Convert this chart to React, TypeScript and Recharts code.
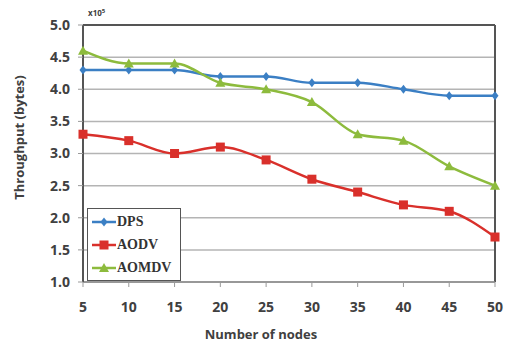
import { LineChart, Line, XAxis, YAxis, CartesianGrid, ReferenceLine } from 'recharts'

// ── Data ──────────────────────────────────────────────────────────────────────

const nodes = [5, 10, 15, 20, 25, 30, 35, 40, 45, 50]
const dps = [4.3, 4.3, 4.3, 4.2, 4.2, 4.1, 4.1, 4.0, 3.9, 3.9]
const aodv = [3.3, 3.2, 3.0, 3.1, 2.9, 2.6, 2.4, 2.2, 2.1, 1.7]
const aomdv = [4.6, 4.4, 4.4, 4.1, 4.0, 3.8, 3.3, 3.2, 2.8, 2.5]
const yTicks = [1.0, 1.5, 2.0, 2.5, 3.0, 3.5, 4.0, 4.5, 5.0]

const data = nodes.map((n, i) => ({ n, dps: dps[i], aodv: aodv[i], aomdv: aomdv[i] }))

const series = [
  { key: 'dps', name: 'DPS', color: '#3b7fc4', shape: 'diamond' },
  { key: 'aodv', name: 'AODV', color: '#d9302b', shape: 'square' },
  { key: 'aomdv', name: 'AOMDV', color: '#8dbb3d', shape: 'triangle' },
]

const SANS = '"Open Sans", "Liberation Sans", sans-serif'

// ── Markers ───────────────────────────────────────────────────────────────────

function Marker({ cx, cy, shape, color }: { cx?: number; cy?: number; shape: string; color: string }) {
  if (cx == null || cy == null) return null
  if (shape === 'square') {
    return <rect x={cx - 4.5} y={cy - 4.5} width={9} height={9} fill={color} />
  }
  if (shape === 'triangle') {
    return <polygon points={`${cx},${cy - 5} ${cx + 5},${cy + 4} ${cx - 5},${cy + 4}`} fill={color} />
  }
  return <polygon points={`${cx},${cy - 4.5} ${cx + 3.5},${cy} ${cx},${cy + 4.5} ${cx - 3.5},${cy}`} fill={color} />
}

// ── Legend (boxed, inside the plot) ───────────────────────────────────────────

function LegendBox() {
  return (
    <div
      style={{
        position: 'absolute',
        left: 87,
        top: 208,
        width: 94,
        height: 73,
        border: '1.5px solid #555',
        background: '#fff',
        boxSizing: 'border-box',
        padding: '1px 0 0 4px',
      }}
    >
      {series.map((s) => (
        <div key={s.key} style={{ display: 'flex', alignItems: 'center', height: 23 }}>
          <svg width={24} height={12}>
            <line x1={0} y1={6} x2={24} y2={6} stroke={s.color} strokeWidth={2.5} />
            <Marker cx={12} cy={6} shape={s.shape} color={s.color} />
          </svg>
          <span
            style={{
              fontFamily: '"Liberation Serif", "DejaVu Serif", serif',
              fontWeight: 'bold',
              fontSize: 14,
              color: '#333',
              marginLeft: 1,
            }}
          >
            {s.name}
          </span>
        </div>
      ))}
    </div>
  )
}

export default function App() {
  return (
    <div style={{ position: 'absolute', left: 0, top: 0, width: 505, height: 343, background: '#fff' }}>
      <LineChart width={505} height={343} data={data} margin={{ top: 25, right: 10, bottom: 21, left: 20 }}>
        <CartesianGrid horizontal vertical={false} stroke="#b4b4b4" strokeWidth={1.5} />
        <XAxis
          dataKey="n"
          height={40}
          axisLine={{ stroke: '#888', strokeWidth: 1.5 }}
          tickLine={{ stroke: '#999' }}
          tickSize={5}
          tickMargin={15}
          tick={{ fontFamily: SANS, fontWeight: 'bold', fontSize: 14, fill: '#404040' }}
          label={{
            value: 'Number of nodes',
            position: 'insideBottom',
            offset: -17,
            dx: -28,
            style: { fontFamily: SANS, fontWeight: 'bold', fontSize: 13, fill: '#404040' },
          }}
        />
        <YAxis
          width={63}
          domain={[1, 5]}
          ticks={yTicks}
          interval={0}
          tickFormatter={(v) => Number(v).toFixed(1)}
          axisLine={{ stroke: '#555', strokeWidth: 2 }}
          tickLine={{ stroke: '#999' }}
          tickSize={5}
          tickMargin={8}
          tick={{ fontFamily: SANS, fontWeight: 'bold', fontSize: 14, fill: '#404040' }}
          label={{
            value: 'Throughput (bytes)',
            angle: -90,
            position: 'insideLeft',
            offset: -1,
            dy: -16,
            style: { fontFamily: SANS, fontWeight: 'bold', fontSize: 13, fill: '#404040', textAnchor: 'middle' },
          }}
        />
        <ReferenceLine y={5} stroke="#555" strokeWidth={2} ifOverflow="visible" />
        <ReferenceLine x={50} stroke="#555" strokeWidth={2} ifOverflow="visible" />
        {series.map((s) => (
          <Line
            key={s.key}
            dataKey={s.key}
            name={s.name}
            type="monotone"
            stroke={s.color}
            strokeWidth={2.5}
            dot={(p: any) => <Marker key={`${s.key}-${p.index}`} cx={p.cx} cy={p.cy} shape={s.shape} color={s.color} />}
            activeDot={false}
            isAnimationActive={false}
          />
        ))}
        <text x={88} y={16} fontFamily={SANS} fontWeight="bold" fontSize={8} fill="#404040">
          x10
          <tspan dy={-3} fontSize={6}>5</tspan>
        </text>
      </LineChart>
      <LegendBox />
    </div>
  )
}
